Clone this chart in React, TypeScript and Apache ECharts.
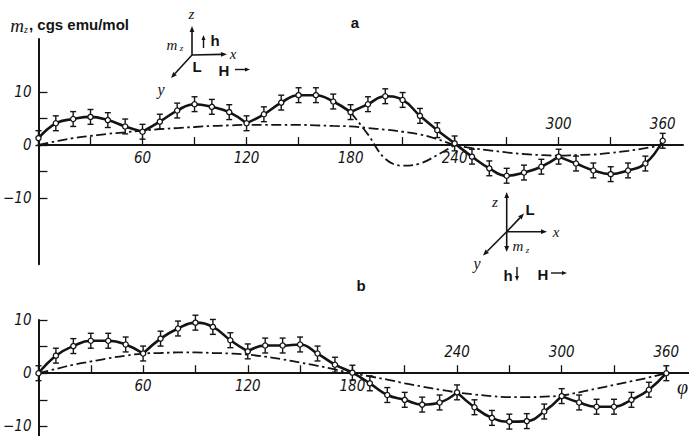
import React, { useEffect, useRef } from 'react';
import * as echarts from 'echarts';

// ---------- data ----------
const angles = [0, 10, 20, 30, 40, 50, 60, 70, 80, 90, 100, 110, 120, 130, 140, 150, 160, 170, 180, 190, 200, 210, 220, 230, 240, 250, 260, 270, 280, 290, 300, 310, 320, 330, 340, 350, 360];

// panel a: measured m_z (cgs emu/mol)
const measuredA = [1.3, 4.1, 4.9, 5.3, 4.7, 3.5, 2.5, 4.4, 6.5, 7.7, 7.2, 6.2, 4.1, 5.8, 8.0, 9.4, 9.4, 8.2, 6.2, 7.7, 9.2, 8.5, 5.5, 2.8, 0.3, -2.2, -4.4, -5.8, -5.2, -4.1, -2.2, -3.5, -4.8, -5.5, -4.8, -3.5, 0.8];
const cuspsA = [60, 120, 180, 300];
// panel a: dash-dot curve
const dashA = [0, 0.7, 1.3, 1.7, 2.1, 2.4, 2.7, 3.0, 3.2, 3.4, 3.6, 3.7, 3.8, 3.8, 3.8, 3.8, 3.7, 3.6, 3.5, 3.2, 2.9, 2.5, 2.0, 1.1, 0, -0.6, -1.0, -1.4, -1.7, -1.9, -2.0, -1.9, -1.8, -1.5, -1.1, -0.6, 0];
// panel a: dash-dot dip between 180 and 240
const dipAngles = [180, 190, 200, 210, 220, 230, 240];
const dipA = [6.2, 2.0, -2.6, -3.9, -3.5, -1.9, 0];

// panel b
const measuredB = [0, 3.3, 5.1, 6.1, 6.1, 5.4, 3.7, 6.5, 8.4, 9.5, 8.7, 6.2, 4.1, 5.2, 5.2, 5.4, 3.7, 1.6, 0.1, -1.9, -4.1, -5.0, -5.9, -5.5, -3.6, -6.4, -8.4, -9.1, -9.0, -7.2, -4.3, -5.5, -6.3, -6.3, -5.0, -3.1, 0];
const cuspsB = [60, 120, 240, 300];
const dashB = [0, 0.8, 1.6, 2.2, 2.8, 3.3, 3.7, 3.8, 3.9, 3.9, 3.8, 3.7, 3.5, 3.1, 2.6, 2.0, 1.4, 0.7, 0, -0.6, -1.2, -1.9, -2.5, -3.1, -3.6, -4.0, -4.3, -4.5, -4.5, -4.4, -4.2, -3.6, -2.9, -2.2, -1.5, -0.8, 0];

const errorHalf = 1.4;

// ticks and labels
const xTicks = [30, 60, 90, 120, 150, 180, 210, 240, 270, 300, 330, 360];
const xLabelsBelowA = [60, 120, 180, 240];
const xLabelsAboveA = [300, 360];
const xLabelsBelowB = [60, 120, 180];
const xLabelsAboveB = [240, 300, 360];
const yTicks = [-10, -5, 0, 5, 10];
const yLabels = [-10, 0, 10];

// ---------- helpers ----------
const INK = '#141414';
const NARROW = '"Liberation Sans Narrow", "DejaVu Sans Condensed", "Arial Narrow", sans-serif';
const SANS = '"Liberation Sans", Arial, sans-serif';
const SERIF = '"Liberation Serif", "DejaVu Serif", serif';

const gridA = { left: 37, top: 39, width: 646, height: 225.25 };
const gridB = { left: 38, top: 320, width: 651, height: 116 };
const yRangeA = [-22.5, 20];
const yRangeB = [-11.8, 10];

function splitAt(values: number[], cusps: number[]) {
  const segs: number[][][] = [];
  let cur: number[][] = [];
  angles.forEach((a, i) => {
    cur.push([a, values[i]]);
    if (cusps.includes(a)) {
      segs.push(cur);
      cur = [[a, values[i]]];
    }
  });
  if (cur.length > 1) segs.push(cur);
  return segs;
}

function arrow(x1: number, y1: number, x2: number, y2: number, head = 6, w = 2.4, lw = 1.6) {
  const dx = x2 - x1, dy = y2 - y1;
  const len = Math.hypot(dx, dy);
  const ux = dx / len, uy = dy / len;
  const bx = x2 - ux * head, by = y2 - uy * head;
  const px = -uy * w, py = ux * w;
  return [
    { type: 'line', shape: { x1, y1, x2: bx, y2: by }, style: { stroke: INK, lineWidth: lw } },
    { type: 'polygon', shape: { points: [[x2, y2], [bx + px, by + py], [bx - px, by - py]] }, style: { fill: INK } },
  ];
}

function txt(text: string, x: number, y: number, opts: any = {}) {
  return {
    type: 'text', x, y,
    style: {
      text, fill: INK, align: 'center', verticalAlign: 'middle',
      fontSize: 14, fontFamily: SANS, ...opts,
    },
  };
}

const labelStyle = { color: INK, fontStyle: 'italic', fontFamily: NARROW, fontSize: 15 };

// x axes sit on the zero line of the y range, via offset from the grid edges
function xAxesFor(grid: number, max: number, below: number[], above: number[], g: any, yr: number[]) {
  const zeroFromTop = g.height * (yr[1] / (yr[1] - yr[0]));
  const offBottom = -(g.height - zeroFromTop);
  const offTop = -zeroFromTop;
  return [
    {
      type: 'value', gridIndex: grid, min: 0, max, position: 'bottom', offset: offBottom,
      axisLine: { show: true, onZero: false, lineStyle: { color: INK, width: 2 } },
      axisTick: { show: true, inside: true, length: 8, customValues: xTicks, lineStyle: { color: INK, width: 1.3 } },
      axisLabel: { show: true, customValues: below, margin: 5, ...labelStyle },
      splitLine: { show: false },
    },
    {
      type: 'value', gridIndex: grid, min: 0, max, position: 'top', offset: offTop,
      axisLine: { show: false, onZero: false },
      axisTick: { show: false },
      axisLabel: { show: true, customValues: above, margin: 14, ...labelStyle },
      splitLine: { show: false },
    },
  ];
}

function yAxisFor(grid: number, yr: number[]) {
  return {
    type: 'value', gridIndex: grid, min: yr[0], max: yr[1], position: 'left',
    axisLine: { show: true, onZero: false, lineStyle: { color: INK, width: 2 } },
    axisTick: { show: true, inside: true, length: 9, customValues: yTicks, lineStyle: { color: INK, width: 1.3 } },
    axisLabel: {
      show: true, customValues: yLabels, margin: 7, ...labelStyle,
      formatter: (v: number) => (v < 0 ? '\u2212' + Math.abs(v) : String(v)),
    },
    splitLine: { show: false },
  };
}

const dashStyle = { color: INK, width: 1.8, type: [10, 3.5, 2.5, 3.5] };

function panelSeries(xIdx: number, yIdx: number, measured: number[], cusps: number[], dash: number[]) {
  const list: any[] = [];
  splitAt(measured, cusps).forEach((seg) => {
    list.push({
      type: 'line', xAxisIndex: xIdx, yAxisIndex: yIdx, data: seg, smooth: 0.45, clip: false,
      symbol: 'none', lineStyle: { color: INK, width: 2.6 }, z: 3, silent: true,
    });
  });
  list.push({
    type: 'line', xAxisIndex: xIdx, yAxisIndex: yIdx, data: angles.map((a, i) => [a, dash[i]]), clip: false,
    smooth: 0.4, symbol: 'none', lineStyle: dashStyle, z: 2, silent: true,
  });
  list.push({
    type: 'custom', xAxisIndex: xIdx, yAxisIndex: yIdx, coordinateSystem: 'cartesian2d',
    data: angles.map((a, i) => [a, measured[i]]), encode: { x: 0, y: 1 }, z: 5, silent: true,
    renderItem: (_p: any, api: any) => {
      const x = api.value(0), y = api.value(1);
      const c = api.coord([x, y]);
      const t = api.coord([x, y + errorHalf]);
      const b = api.coord([x, y - errorHalf]);
      const st = { stroke: INK, lineWidth: 1.4 };
      return {
        type: 'group',
        children: [
          { type: 'line', shape: { x1: c[0], y1: t[1], x2: c[0], y2: b[1] }, style: st },
          { type: 'line', shape: { x1: c[0] - 3, y1: t[1], x2: c[0] + 3, y2: t[1] }, style: st },
          { type: 'line', shape: { x1: c[0] - 3, y1: b[1], x2: c[0] + 3, y2: b[1] }, style: st },
          { type: 'circle', shape: { cx: c[0], cy: c[1], r: 2.6 }, style: { fill: '#fff', stroke: INK, lineWidth: 1.3 } },
        ],
      };
    },
  });
  return list;
}

function buildGraphics() {
  const g: any[] = [];
  // title
  g.push(txt('m', 17, 25, { fontFamily: SERIF, fontStyle: 'italic', fontSize: 19 }));
  g.push(txt('z', 26, 29, { fontFamily: SERIF, fontStyle: 'italic', fontSize: 10 }));
  g.push(txt(', cgs emu/mol', 29, 24, { align: 'left', fontWeight: 'bold', fontSize: 15 }));
  // panel letters
  g.push(txt('a', 355, 22, { fontWeight: 'bold', fontSize: 15 }));
  g.push(txt('b', 361, 285, { fontWeight: 'bold', fontSize: 15 }));
  // phi
  g.push(txt('\u03c6', 677, 387, { align: 'left', fontFamily: SERIF, fontStyle: 'italic', fontSize: 20 }));

  // inset a
  const oa = [192, 55];
  g.push(...arrow(oa[0], oa[1], 192, 26));
  g.push(...arrow(oa[0], oa[1], 227, 54.3));
  g.push(...arrow(oa[0], oa[1], 171, 78));
  g.push(...arrow(203.5, 48, 203.5, 35, 5, 2, 1.4));
  g.push(txt('z', 191.5, 14, { fontFamily: SERIF, fontStyle: 'italic', fontSize: 15 }));
  g.push(txt('m', 172, 45, { fontFamily: SERIF, fontStyle: 'italic', fontSize: 15 }));
  g.push(txt('z', 181.5, 48, { fontFamily: SERIF, fontStyle: 'italic', fontSize: 9 }));
  g.push(txt('h', 215, 40, { fontWeight: 'bold', fontSize: 15 }));
  g.push(txt('x', 233, 54, { fontFamily: SERIF, fontStyle: 'italic', fontSize: 15 }));
  g.push(txt('y', 161, 89, { fontFamily: SERIF, fontStyle: 'italic', fontSize: 16 }));
  g.push(txt('L', 197, 66, { fontWeight: 'bold', fontSize: 15 }));
  g.push(txt('H', 224, 70, { fontWeight: 'bold', fontSize: 15 }));
  g.push(...arrow(235, 69.5, 250, 69.5, 5, 2, 1.4));

  // inset b
  const ob = [506.7, 231.7];
  g.push(...arrow(ob[0], ob[1], 506.7, 192));
  g.push(...arrow(ob[0], ob[1], 524, 213.5));
  g.push(...arrow(ob[0], ob[1], 547, 231.7));
  g.push(...arrow(ob[0], ob[1], 483, 255.5));
  g.push(...arrow(ob[0], ob[1], 506.7, 252));
  g.push(txt('z', 495, 202, { fontFamily: SERIF, fontStyle: 'italic', fontSize: 15 }));
  g.push(txt('L', 530, 209, { fontWeight: 'bold', fontSize: 15 }));
  g.push(txt('x', 556, 232, { fontFamily: SERIF, fontStyle: 'italic', fontSize: 15 }));
  g.push(txt('y', 477, 263, { fontFamily: SERIF, fontStyle: 'italic', fontSize: 16 }));
  g.push(txt('m', 518, 246, { fontFamily: SERIF, fontStyle: 'italic', fontSize: 15 }));
  g.push(txt('z', 527.5, 250, { fontFamily: SERIF, fontStyle: 'italic', fontSize: 9 }));
  g.push(txt('h', 508, 275, { fontWeight: 'bold', fontSize: 15 }));
  g.push(...arrow(517, 267, 517, 281, 5, 2, 1.4));
  g.push(txt('H', 543, 274, { fontWeight: 'bold', fontSize: 15 }));
  g.push(...arrow(551, 273, 567, 273, 5, 2, 1.4));
  return g;
}

export default function App() {
  const ref = useRef<HTMLDivElement>(null);
  useEffect(() => {
    if (!ref.current) return;
    const chart = echarts.init(ref.current, undefined, { renderer: 'svg' });
    const option: any = {
      animation: false,
      backgroundColor: '#fff',
      textStyle: { fontFamily: SANS, color: INK },
      grid: [gridA, gridB],
      xAxis: [
        ...xAxesFor(0, 371.7, xLabelsBelowA, xLabelsAboveA, gridA, yRangeA),
        ...xAxesFor(1, 373, xLabelsBelowB, xLabelsAboveB, gridB, yRangeB),
      ],
      yAxis: [yAxisFor(0, yRangeA), yAxisFor(1, yRangeB)],
      series: [
        ...panelSeries(0, 0, measuredA, cuspsA, dashA),
        {
          type: 'line', xAxisIndex: 0, yAxisIndex: 0, data: dipAngles.map((a, i) => [a, dipA[i]]), clip: false,
          smooth: 0.4, symbol: 'none', lineStyle: dashStyle, z: 2, silent: true,
        },
        ...panelSeries(2, 1, measuredB, cuspsB, dashB),
      ],
      graphic: buildGraphics(),
    };
    chart.setOption(option);
    return () => chart.dispose();
  }, []);
  return <div ref={ref} style={{ position: 'fixed', left: 0, top: 0, width: 689, height: 436, background: '#fff' }} />;
}
